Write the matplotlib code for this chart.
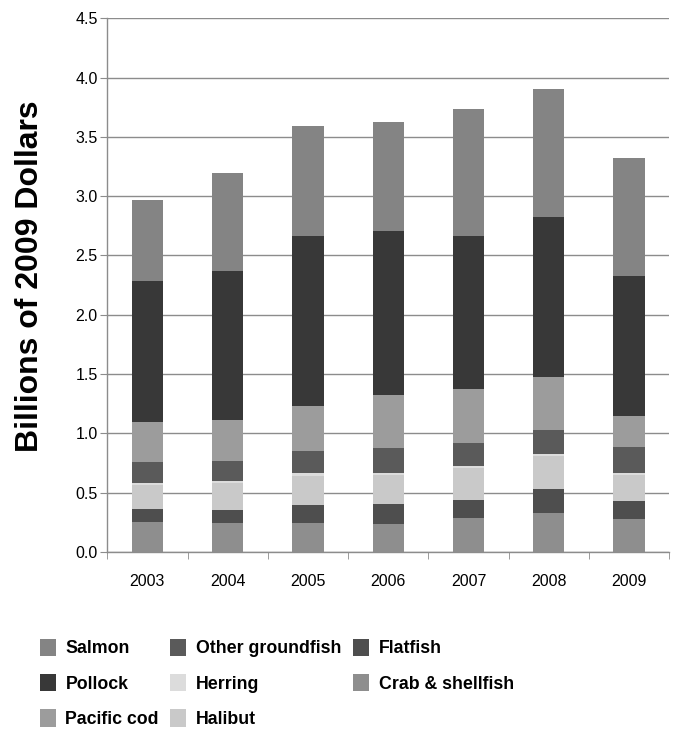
import matplotlib
matplotlib.use("Agg")
import matplotlib.pyplot as plt
import numpy as np

years = ["2003", "2004", "2005", "2006", "2007", "2008", "2009"]

# Stacked from the bottom up (billions of 2009 dollars)
crab_shellfish = [0.254, 0.240, 0.245, 0.234, 0.282, 0.324, 0.274]
flatfish = [0.105, 0.113, 0.147, 0.166, 0.155, 0.206, 0.155]
halibut = [0.206, 0.226, 0.250, 0.248, 0.267, 0.275, 0.220]
herring = [0.020, 0.020, 0.020, 0.020, 0.020, 0.020, 0.020]
other_groundfish = [0.170, 0.169, 0.189, 0.205, 0.197, 0.203, 0.218]
pacific_cod = [0.340, 0.345, 0.380, 0.451, 0.451, 0.445, 0.257]
pollock = [1.190, 1.257, 1.429, 1.380, 1.290, 1.352, 1.184]
salmon = [0.685, 0.828, 0.930, 0.921, 1.076, 1.075, 0.997]

series = [
    ("Crab & shellfish", crab_shellfish, "#8e8e8e"),
    ("Flatfish", flatfish, "#4e4e4e"),
    ("Halibut", halibut, "#c9c9c9"),
    ("Herring", herring, "#dcdcdc"),
    ("Other groundfish", other_groundfish, "#5a5a5a"),
    ("Pacific cod", pacific_cod, "#9c9c9c"),
    ("Pollock", pollock, "#383838"),
    ("Salmon", salmon, "#848484"),
]

plt.rcParams["font.family"] = ["Liberation Sans", "DejaVu Sans"]

fig = plt.figure(figsize=(6.92, 7.30), dpi=100)
ax = fig.add_axes([0.155, 0.244, 0.812, 0.731])

x = np.arange(len(years))
bottom = np.zeros(len(years))
handles = {}
for name, vals, color in series:
    vals = np.array(vals)
    b = ax.bar(x, vals, width=0.39, bottom=bottom, color=color,
               edgecolor="none", zorder=3, label=name)
    handles[name] = b
    bottom += vals

ax.set_ylim(0, 4.5)
ax.set_xlim(-0.5, len(years) - 0.5)
ax.set_yticks(np.arange(0, 4.51, 0.5))
ax.set_yticklabels([f"{v:.1f}" for v in np.arange(0, 4.51, 0.5)], fontsize=11.5)
ax.yaxis.grid(True, color="#8c8c8c", linewidth=1.0, zorder=0)
ax.set_axisbelow(True)

ax.set_xticks(x)
ax.set_xticklabels(years, fontsize=11.5)
ax.set_xticks(np.arange(-0.5, len(years) + 0.5, 1.0), minor=True)
ax.tick_params(axis="x", which="major", length=0, pad=16)
ax.tick_params(axis="x", which="minor", length=5, color="#8c8c8c", direction="out")
ax.tick_params(axis="y", length=5, color="#8c8c8c", pad=2)

for s in ("top", "right"):
    ax.spines[s].set_visible(False)
for s in ("left", "bottom"):
    ax.spines[s].set_color("#8c8c8c")
    ax.spines[s].set_linewidth(1.0)

ax.set_ylabel("Billions of 2009 Dollars", fontsize=23, fontweight="bold")
ax.yaxis.set_label_coords(-0.11, 0.517)

order = ["Salmon", "Pollock", "Pacific cod",
         "Other groundfish", "Herring", "Halibut",
         "Flatfish", "Crab & shellfish"]
fig.legend([handles[n] for n in order], order, ncol=3, loc="upper left",
           bbox_to_anchor=(0.047, 0.135), frameon=False,
           prop={"weight": "bold", "size": 12.8},
           handlelength=0.9, handleheight=1.1, handletextpad=0.55,
           columnspacing=0.65, labelspacing=0.95, borderaxespad=0)

fig.savefig("out.png", dpi=100, facecolor="white")
